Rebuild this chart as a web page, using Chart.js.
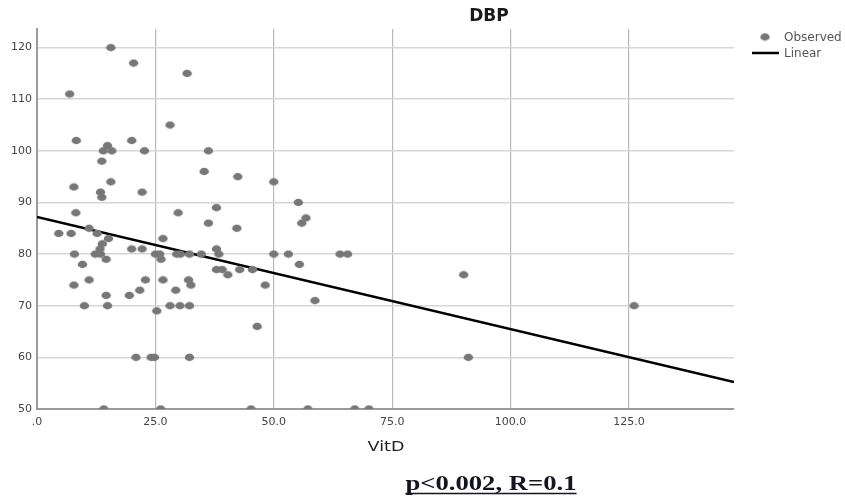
<!DOCTYPE html>
<html>
<head>
<meta charset="utf-8">
<script src="https://cdn.jsdelivr.net/npm/chart.js@4.4.1/dist/chart.umd.min.js"></script>
<style>
  html, body { margin: 0; padding: 0; background: #ffffff; }
  #wrap { width: 845px; height: 499px; position: relative; }
</style>
</head>
<body>
<div id="wrap"><canvas id="c" width="845" height="499"></canvas></div>
<script>
// ---- data ----
const chartTitle = "DBP";
const xAxisTitle = "VitD";
const statText = "p<0.002, R=0.1";
const legendLabels = ["Observed", "Linear"];

const vitD = [15.6, 20.4, 31.7, 6.9, 28.1, 8.3, 20.0, 14.9, 14.0, 15.8,
              22.7, 36.2, 13.7, 35.3, 42.4, 50.0, 7.8, 15.6, 13.4, 22.2,
              13.7, 8.2, 29.8, 37.9, 55.2, 56.8, 55.9, 36.2, 4.6, 7.2,
              11.0, 12.7, 13.8, 15.1, 13.3, 12.3, 13.4, 7.9, 14.6, 9.6,
              7.8, 11.0, 10.0, 14.6, 14.9, 20.0, 22.2, 19.5, 21.7, 22.9,
              26.6, 25.0, 25.9, 26.2, 26.6, 25.3, 28.1, 29.3, 29.5, 30.3,
              30.2, 32.2, 32.0, 32.5, 32.2, 32.2, 20.9, 24.1, 24.8, 14.1,
              26.1, 45.2, 34.7, 37.9, 38.4, 37.9, 39.1, 40.3, 42.2, 42.8,
              45.5, 48.2, 46.5, 50.0, 53.1, 55.4, 58.7, 64.0, 65.6, 90.1,
              91.1, 57.2, 67.1, 70.1, 126.1];
const dbp  = [120, 117, 115, 111, 105, 102, 102, 101, 100, 100,
              100, 100, 98, 96, 95, 94, 93, 94, 92, 92,
              91, 88, 88, 89, 90, 87, 86, 86, 84, 84,
              85, 84, 82, 83, 81, 80, 80, 80, 79, 78,
              74, 75, 70, 72, 70, 81, 81, 72, 73, 75,
              83, 80, 80, 79, 75, 69, 70, 73, 80, 80,
              70, 80, 75, 74, 70, 60, 60, 60, 60, 50,
              50, 50, 80, 81, 80, 77, 77, 76, 85, 77,
              77, 74, 66, 80, 80, 78, 71, 80, 80, 76,
              60, 50, 50, 50, 70];

const linearX = [0, 147.2];
const linearY = [87.2, 55.2];

const xMin = 0, xMax = 147.2, xStep = 25;
const yMin = 50, yMax = 123.6, yStep = 10;
const xTickLabels = [".0", "25.0", "50.0", "75.0", "100.0", "125.0"];
const yTickLabels = ["50", "60", "70", "80", "90", "100", "110", "120"];

// ---- styles ----
const pointColor = "#777777";
const tickFont = { family: "DejaVu Sans", size: 11 };

// elliptical marker (reference markers are slightly wider than tall)
const marker = document.createElement("canvas");
marker.width = 11; marker.height = 9;
(function () {
  const m = marker.getContext("2d");
  m.fillStyle = pointColor;
  m.beginPath();
  m.ellipse(5.5, 4.5, 4.7, 3.7, 0, 0, Math.PI * 2);
  m.fill();
})();

function stretchedText(ctx, text, x, y, font, sx, color, align, baseline) {
  ctx.save();
  ctx.font = font;
  ctx.fillStyle = color;
  ctx.textAlign = align;
  ctx.textBaseline = baseline;
  ctx.translate(x, y);
  ctx.scale(sx, 1);
  ctx.fillText(text, 0, 0);
  const w = ctx.measureText(text).width * sx;
  ctx.restore();
  return w;
}

const decorations = {
  id: "decorations",
  afterDraw(chart) {
    const ctx = chart.ctx;
    // title
    stretchedText(ctx, chartTitle, 489, 17, "bold 17px 'DejaVu Sans'", 1.0, "#1a1a1a", "center", "middle");
    // legend
    ctx.save();
    ctx.drawImage(marker, 765 - 5.5, 37 - 4.5);
    ctx.strokeStyle = "#000000";
    ctx.lineWidth = 2.5;
    ctx.beginPath();
    ctx.moveTo(752, 53);
    ctx.lineTo(779, 53);
    ctx.stroke();
    ctx.restore();
    stretchedText(ctx, legendLabels[0], 784, 38, "12px 'DejaVu Sans'", 1.0, "#555555", "left", "middle");
    stretchedText(ctx, legendLabels[1], 784, 54, "12px 'DejaVu Sans'", 1.0, "#555555", "left", "middle");
    // x axis title
    stretchedText(ctx, xAxisTitle, 386, 447, "14px 'DejaVu Sans'", 1.25, "#222222", "center", "middle");
    // statistics line, underlined
    const sx = 1.27, cx = 491, base = 490;
    const w = stretchedText(ctx, statText, cx, base, "bold 21px 'Liberation Serif'", sx, "#15151f", "center", "alphabetic");
    ctx.save();
    ctx.strokeStyle = "#15151f";
    ctx.lineWidth = 1.5;
    ctx.beginPath();
    ctx.moveTo(cx - w / 2, base + 3.5);
    ctx.lineTo(cx + w / 2, base + 3.5);
    ctx.stroke();
    ctx.restore();
  }
};

new Chart(document.getElementById("c"), {
  type: "scatter",
  data: {
    datasets: [
      {
        label: legendLabels[0],
        data: vitD.map((v, i) => ({ x: v, y: dbp[i] })),
        pointStyle: marker,
        pointRadius: 4.5,
        pointHoverRadius: 4.5,
        backgroundColor: pointColor,
        borderWidth: 0,
        clip: 0
      },
      {
        type: "line",
        label: legendLabels[1],
        data: linearX.map((v, i) => ({ x: v, y: linearY[i] })),
        borderColor: "#000000",
        borderWidth: 2.5,
        pointRadius: 0,
        fill: false,
        tension: 0,
        clip: 0
      }
    ]
  },
  options: {
    responsive: false,
    animation: false,
    events: [],
    layout: { padding: { top: 29, right: 111, left: 0, bottom: 0 } },
    plugins: {
      legend: { display: false },
      title: { display: false },
      tooltip: { enabled: false }
    },
    scales: {
      x: {
        type: "linear",
        min: xMin, max: xMax,
        afterFit(scale) { scale.height = 90; },
        afterBuildTicks(scale) {
          scale.ticks = scale.ticks.filter(t => Math.abs(t.value / xStep - Math.round(t.value / xStep)) < 1e-6);
        },
        ticks: {
          stepSize: xStep,
          includeBounds: false,
          padding: 7,
          maxRotation: 0,
          font: tickFont,
          color: "#444444",
          callback: (v) => xTickLabels[Math.round(v / xStep)]
        },
        grid: { color: "#b9b9b9", lineWidth: 1.2, drawTicks: false },
        border: { display: true, color: "#9a9a9a", width: 2 }
      },
      y: {
        type: "linear",
        min: yMin, max: yMax,
        afterFit(scale) { scale.width = 37; },
        afterBuildTicks(scale) {
          scale.ticks = scale.ticks.filter(t => Math.abs(t.value / yStep - Math.round(t.value / yStep)) < 1e-6);
        },
        ticks: {
          stepSize: yStep,
          includeBounds: false,
          padding: 5,
          font: tickFont,
          color: "#444444",
          callback: (v) => yTickLabels[Math.round((v - yMin) / yStep)]
        },
        grid: { color: "#d6d6d6", lineWidth: 1.5, drawTicks: false },
        border: { display: true, color: "#9a9a9a", width: 2 }
      }
    }
  },
  plugins: [decorations]
});
</script>
</body>
</html>
